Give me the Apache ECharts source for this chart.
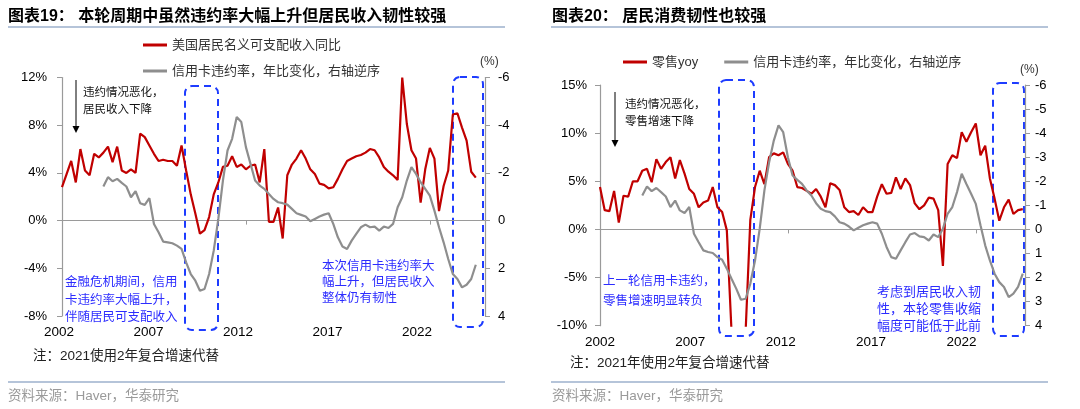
<!DOCTYPE html>
<html>
<head>
<meta charset="utf-8">
<title>图表19-20</title>
<script src="https://cdn.jsdelivr.net/npm/echarts@6.0.0/dist/echarts.min.js"></script>
<style>
  html, body { margin: 0; padding: 0; background: #fff; }
  #chart { width: 1080px; height: 409px; }
</style>
</head>
<body>
<div id="chart"></div>
<script>
// quarterly series
var incomeStart = 2002;
var incomeYoy = [2.8, 3.9, 5.0, 3.2, 6.0, 4.2, 3.8, 5.6, 5.3, 5.7,
  6.2, 4.9, 6.2, 4.2, 4.0, 4.3, 4.0, 7.3, 7.0, 6.3,
  5.6, 5.0, 5.1, 5.0, 5.0, 4.6, 6.3, 4.2, 2.2, 0.6,
  -1.1, -0.8, 0.3, 2.2, 3.2, 4.5, 4.6, 5.4, 4.5, 4.7,
  4.3, 4.6, 4.7, 3.2, 6.0, -0.1, -0.1, 1.1, -1.5, 3.8,
  4.7, 5.2, 5.9, 5.2, 4.3, 3.9, 3.1, 3.0, 2.7, 2.8,
  3.5, 4.3, 5.0, 5.2, 5.4, 5.5, 5.7, 6.0, 5.9, 5.3,
  4.5, 4.1, 3.8, 3.4, 12.0, 8.1, 5.9, 5.2, 1.5, 4.3,
  6.1, 5.2, 0.8, 2.9, 4.2, 8.9, 9.0, 7.8, 6.7, 4.1,
  3.6];

var delinqStart = 2004.25;
var delinqLeft = [-1.43, -1.82, -1.65, -1.75, -1.58, -1.43, -0.98, -1.23, -0.73, -0.66,
  -0.94, 0.14, 0.49, 0.88, 0.91, 0.95, 1.05, 1.19, 1.75, 2.24,
  2.52, 2.94, 2.87, 2.24, 1.26, -0.07, -1.68, -2.94, -3.43, -4.34,
  -4.13, -3.08, -2.38, -1.68, -1.47, -1.33, -1.12,
  -0.91, -0.77, -0.73, -0.67, -0.49, -0.31, -0.24, -0.17, 0.03, -0.07,
  -0.17, -0.25, -0.31, 0.14, 0.70, 1.09, 1.19, 0.84, 0.56, 0.28,
  0.17, 0.28, 0.25, 0.42, 0.25, 0.31, 0.14, -0.56, -0.98, -1.68,
  -2.24, -1.96, -1.61, -1.33, -1.05, -0.42, 0.28, 0.91, 1.61, 2.24,
  2.45, 2.80, 2.69, 2.45, 1.85];

var retailStart = 2002;
var retailYoy = [4.4, 2.0, 1.9, 4.0, 0.7, 3.5, 3.4, 5.0, 5.0, 6.1,
  6.3, 4.9, 7.3, 6.3, 7.0, 7.5, 5.3, 7.2, 5.8, 4.2,
  3.7, 2.3, 2.8, 3.0, 4.4, 2.3, 1.8, -0.1, -10.6, -12.5,
  -12.0, -10.6, 1.0, 4.4, 6.1, 4.7, 7.5, 7.9, 7.7, 8.0,
  6.8, 6.1, 4.4, 4.3, 4.0, 3.7, 4.2, 3.4, 2.3, 4.8,
  4.6, 4.1, 2.3, 1.8, 1.9, 1.5, 2.3, 1.8, 1.8, 3.4,
  4.7, 3.7, 3.8, 5.4, 4.2, 5.3, 4.6, 2.7, 2.1, 2.5,
  3.3, 3.2, 2.0, -3.8, 6.8, 7.7, 7.4, 10.1, 9.1, 10.1,
  11.0, 7.7, 8.7, 5.3, 3.2, 0.9, 2.3, 3.1, 1.6, 2.0,
  2.1];

var delinqRight = [-1.41, -1.78, -1.59, -1.72, -1.55, -1.37, -0.93, -1.20, -0.79, -0.68,
  -0.93, 0.18, 0.53, 0.87, 0.94, 0.98, 1.15, 1.26, 1.63, 2.05,
  2.46, 2.92, 2.88, 2.25, 1.29, -0.03, -1.62, -2.79, -3.69, -4.32,
  -4.04, -3.00, -2.24, -2.06, -1.89, -1.62, -1.41,
  -1.09, -0.86, -0.76, -0.72, -0.54, -0.30, -0.24, -0.12, 0.04, -0.07,
  -0.17, -0.24, -0.30, -0.24, 0.18, 0.73, 1.15, 1.22, 0.87, 0.53,
  0.21, 0.15, 0.29, 0.32, 0.46, 0.21, 0.32, -0.03, -0.65, -0.93,
  -1.55, -2.31, -1.89, -1.48, -1.06, -0.17, 0.66, 1.29, 1.84, 2.19,
  2.39, 2.81, 2.67, 2.39, 1.84];

var xLabels = ['2002', '2007', '2012', '2017', '2022'];

var NAME_INCOME = '美国居民名义可支配收入同比';
var NAME_RETAIL = '零售yoy';
var NAME_GRAY = '信用卡违约率，年比变化，右轴逆序';

var FONT = "'Liberation Sans', 'Noto Sans CJK SC', sans-serif";
var RED = '#c00000';
var GRAY = '#8e8e8e';
var AXIS = '#9a9a9a';
var BLUE = '#2c2cff';
var RULE = '#9db0cc';

function toPairs(arr, start) {
  return arr.map(function (v, i) { return [start + i * 0.25, v]; });
}

function text(x, y, s, size, color, weight) {
  return {
    type: 'text', x: x, y: y, silent: true,
    style: { text: s, fontSize: size, fontFamily: FONT, fill: color,
      fontWeight: weight || 'normal', verticalAlign: 'middle', align: 'left' }
  };
}
function lines(x, ys, arr, size, color) {
  return arr.map(function (s, i) { return text(x, ys[i], s, size, color); });
}
function rule(x1, y1, x2, y2, color, w) {
  return { type: 'line', silent: true, shape: { x1: x1, y1: y1, x2: x2, y2: y2 },
    style: { stroke: color, lineWidth: w } };
}
function box(x, y, w, h) {
  return { type: 'rect', silent: true, shape: { x: x, y: y, width: w, height: h, r: 7 },
    style: { fill: 'none', stroke: '#1e3cff', lineWidth: 2, lineDash: [7, 5] } };
}
function arrow(x, y1, y2) {
  return [
    rule(x, y1, x, y2 - 6, '#000', 1),
    { type: 'polygon', silent: true,
      shape: { points: [[x - 3.5, y2 - 7], [x + 3.5, y2 - 7], [x, y2]] },
      style: { fill: '#000' } }
  ];
}

function mainX(grid, max) {
  return {
    gridIndex: grid, type: 'value', min: 2002, max: max, interval: 10,
    axisLine: { show: true, onZero: true, lineStyle: { color: AXIS, width: 1.2 } },
    axisTick: { show: true, length: 4, lineStyle: { color: AXIS } },
    axisLabel: { show: false }, splitLine: { show: false }
  };
}
function labelX(grid, max, pad) {
  return {
    gridIndex: grid, type: 'value', position: 'bottom', min: 0, max: max, interval: 1,
    axisLine: { show: false, onZero: false }, axisTick: { show: false },
    splitLine: { show: false },
    axisLabel: {
      margin: 10, fontSize: 13.5, color: '#000', fontFamily: FONT,
      padding: [0, pad, 0, 0], showMaxLabel: false,
      formatter: function (v) { return Number.isInteger(v) ? xLabels[v] : ''; }
    }
  };
}
function yAx(grid, pos, min, max, interval, inverse, fmt, margin) {
  return {
    gridIndex: grid, type: 'value', position: pos, min: min, max: max,
    interval: interval, inverse: inverse,
    axisLine: { show: true, lineStyle: { color: AXIS, width: 1.2 } },
    axisTick: { show: true, length: 5, lineStyle: { color: AXIS } },
    axisLabel: { formatter: fmt, margin: margin, fontSize: 13, color: '#000', fontFamily: FONT },
    splitLine: { show: false }
  };
}
function lineSeries(name, xi, yi, data, color) {
  return {
    name: name, type: 'line', xAxisIndex: xi, yAxisIndex: yi, data: data,
    symbol: 'none', showSymbol: false, clip: true,
    lineStyle: { color: color, width: 2.2 }, itemStyle: { color: color }
  };
}

var graphic = [
  rule(8, 27, 505, 27, RULE, 1.5),
  rule(551, 27, 1048, 27, RULE, 1.5),
  rule(8, 382, 505, 382, RULE, 1.5),
  rule(551, 382, 1048, 382, RULE, 1.5),
  text(480, 62, '(%)', 12, '#333'),
  text(1020, 70, '(%)', 12, '#333'),
  box(185, 86, 33, 244),
  box(453, 77, 30, 250),
  box(719, 80, 35, 256),
  box(993, 83, 31, 253),
  text(33, 356, '注：2021使用2年复合增速代替', 13.5, '#222'),
  text(570, 363, '注：2021年使用2年复合增速代替', 13.5, '#222'),
  text(8, 396, '资料来源：Haver，华泰研究', 13.5, '#9a9a9a'),
  text(552, 396, '资料来源：Haver，华泰研究', 13.5, '#9a9a9a')
]
  .concat(arrow(76, 80, 133), arrow(615, 92, 147))
  .concat(lines(83, [93, 110], ['违约情况恶化，', '居民收入下降'], 11.5, '#111'))
  .concat(lines(625, [105, 122], ['违约情况恶化，', '零售增速下降'], 11.5, '#111'))
  .concat(lines(65, [283, 301, 318], ['金融危机期间，信用', '卡违约率大幅上升，', '伴随居民可支配收入'], 12.5, BLUE))
  .concat(lines(322, [267, 283, 299], ['本次信用卡违约率大', '幅上升，但居民收入', '整体仍有韧性'], 12.5, BLUE))
  .concat(lines(603, [282, 302], ['上一轮信用卡违约，', '零售增速明显转负'], 12.5, BLUE))
  .concat(lines(877, [292, 309, 326], ['考虑到居民收入韧', '性，本轮零售收缩', '幅度可能低于此前'], 13, BLUE));

var titleStyle = { fontSize: 16, fontWeight: 'bold', color: '#000', fontFamily: FONT, lineHeight: 18 };
var legendText = { fontSize: 13, color: '#333', fontFamily: FONT, lineHeight: 14 };

var option = {
  animation: false,
  backgroundColor: '#fff',
  title: [
    { text: '图表19： 本轮周期中虽然违约率大幅上升但居民收入韧性较强', left: 8, top: 8, padding: 0, textStyle: titleStyle },
    { text: '图表20： 居民消费韧性也较强', left: 552, top: 8, padding: 0, textStyle: titleStyle }
  ],
  legend: [
    { orient: 'vertical', left: 143, top: 38, padding: 0, itemGap: 12,
      itemWidth: 24, itemHeight: 3, icon: 'rect', selectedMode: false,
      data: [NAME_INCOME, NAME_GRAY], textStyle: legendText },
    { orient: 'horizontal', left: 623, top: 55, padding: 0, itemGap: 26,
      itemWidth: 24, itemHeight: 3, icon: 'rect', selectedMode: false,
      data: [NAME_RETAIL, NAME_GRAY], textStyle: legendText }
  ],
  grid: [
    { left: 62, top: 77.5, width: 423, height: 238.5, outerBoundsMode: 'none' },
    { left: 600, top: 85, width: 425, height: 240.7, outerBoundsMode: 'none' }
  ],
  xAxis: [
    mainX(0, 2025),
    labelX(0, 423 / 89.5, 6),
    mainX(1, 2002 + 425 / 18.79),
    labelX(1, 425 / 90.35, 0)
  ],
  yAxis: [
    yAx(0, 'left', -8, 12, 4, false, '{value}%', 15),
    yAx(0, 'right', -6, 4, 2, true, '{value}', 13),
    yAx(1, 'left', -10, 15, 5, false, '{value}%', 13),
    yAx(1, 'right', -6, 4, 1, true, '{value}', 10)
  ],
  series: [
    lineSeries(NAME_INCOME, 0, 0, toPairs(incomeYoy, incomeStart), RED),
    lineSeries(NAME_GRAY, 0, 1, toPairs(delinqLeft, delinqStart), GRAY),
    lineSeries(NAME_RETAIL, 2, 2, toPairs(retailYoy, retailStart), RED),
    lineSeries(NAME_GRAY, 2, 3, toPairs(delinqRight, delinqStart), GRAY)
  ],
  graphic: graphic
};

var chart = echarts.init(document.getElementById('chart'));
chart.setOption(option);
</script>
</body>
</html>
